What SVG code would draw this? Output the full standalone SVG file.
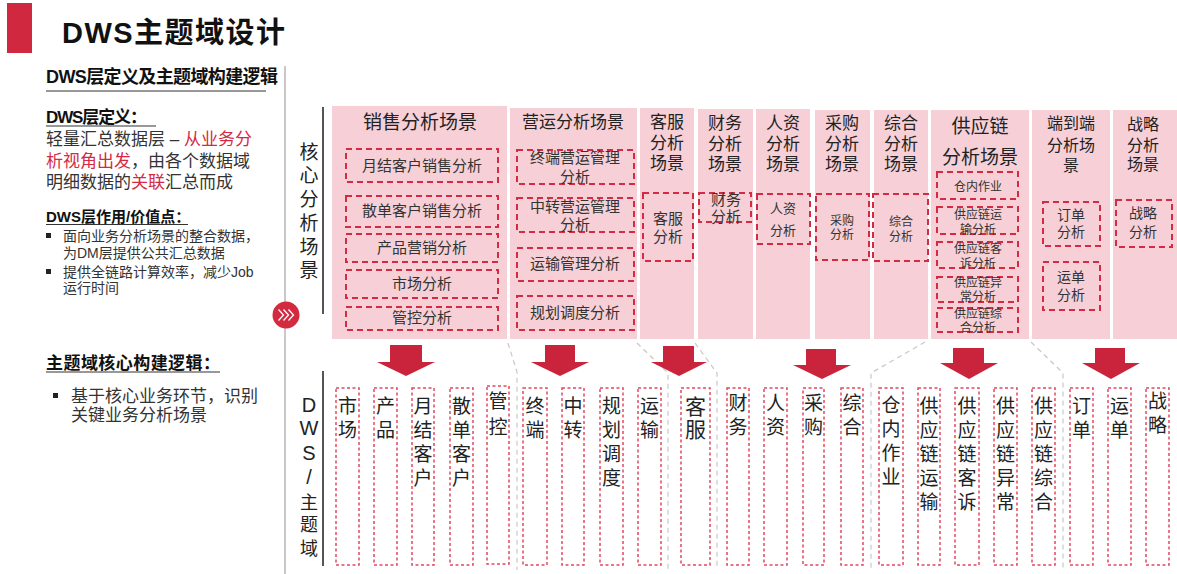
<svg xmlns="http://www.w3.org/2000/svg" width="1177" height="574" viewBox="0 0 1177 574">
<style>
.t{font-family:'Liberation Sans','Noto Sans CJK SC',sans-serif;fill:#333}
.b{font-weight:bold;fill:#111}
.c{text-anchor:middle}
.red{fill:#d42a44}
.pk{fill:#f6d0d6}
.db{fill:none;stroke:#d42b45;stroke-width:2;stroke-dasharray:6 4}
.dv{fill:none;stroke:#e24862;stroke-width:1.5;stroke-dasharray:3 2.5}
.ar{fill:#c9243b}
.gd{fill:none;stroke:#c8c8c8;stroke-width:1.2;stroke-dasharray:5 4}
.ul{stroke:#333;stroke-width:1.2}
.vt{font-size:19px;fill:#222}
.h{fill:#222}
</style>
<rect width="1177" height="574" fill="#fff"/>

<g id="title">
<rect x="7" y="3" width="25" height="50" fill="#d0283e"/>
<text class="t b" x="62" y="43" font-size="29" textLength="223" lengthAdjust="spacing">DWS主题域设计</text>
</g>

<g id="left-panel">
<text class="t b" x="46" y="83" font-size="18" textLength="232" lengthAdjust="spacing">DWS层定义及主题域构建逻辑</text>
<line class="ul" x1="46" y1="91" x2="266" y2="91"/>
<line x1="285" y1="66" x2="285" y2="574" stroke="#c8c8c8" stroke-width="2"/>
<text class="t b" x="46" y="123" font-size="17" textLength="101" lengthAdjust="spacing">DWS层定义：</text>
<line class="ul" x1="46" y1="126" x2="156" y2="126"/>
<text class="t" x="46" y="145" font-size="17">轻量汇总数据层 – <tspan class="red">从业务分</tspan></text>
<text class="t" x="46" y="167" font-size="17"><tspan class="red">析视角出发</tspan>，由各个数据域</text>
<text class="t" x="46" y="188" font-size="17">明细数据的<tspan class="red">关联</tspan>汇总而成</text>
<text class="t b" x="46" y="222" font-size="15">DWS层作用/价值点：</text>
<line class="ul" x1="46" y1="224.5" x2="188" y2="224.5"/>
<rect x="46" y="233" width="5" height="5" fill="#222"/>
<text class="t" x="63" y="241" font-size="14">面向业务分析场景的整合数据，</text>
<text class="t" x="63" y="258" font-size="14">为DM层提供公共汇总数据</text>
<rect x="46" y="269" width="5" height="5" fill="#222"/>
<text class="t" x="63" y="277" font-size="14">提供全链路计算效率，减少Job</text>
<text class="t" x="63" y="293" font-size="14">运行时间</text>
<circle cx="286" cy="315" r="13.5" fill="#d42a40"/>
<path d="M278.5 309.5 L283.5 315 L278.5 320.5 M283.5 309.5 L288.5 315 L283.5 320.5 M288.5 309.5 L293.5 315 L288.5 320.5" fill="none" stroke="#fff" stroke-width="1.3"/>
<text class="t b" x="46" y="369" font-size="17" textLength="174" lengthAdjust="spacing">主题域核心构建逻辑：</text>
<line class="ul" x1="46" y1="372" x2="220" y2="372"/>
<rect x="53" y="393" width="5" height="5" fill="#222"/>
<text class="t" x="71" y="402" font-size="17">基于核心业务环节，识别</text>
<text class="t" x="71" y="421" font-size="17">关键业务分析场景</text>
</g>

<g id="row-labels">
<line x1="323" y1="107" x2="323" y2="314" stroke="#555" stroke-width="2"/>
<text class="t c h" font-size="19"><tspan x="309" y="159">核</tspan><tspan x="309" y="182">心</tspan><tspan x="309" y="206">分</tspan><tspan x="309" y="230">析</tspan><tspan x="309" y="254">场</tspan><tspan x="309" y="277">景</tspan></text>
<line x1="323" y1="371" x2="323" y2="566" stroke="#555" stroke-width="2"/>
<text class="t c h" font-size="20"><tspan x="309" y="412">D</tspan><tspan x="309" y="435">W</tspan><tspan x="309" y="460">S</tspan><tspan x="309" y="484">/</tspan><tspan x="309" y="509" font-size="18">主</tspan><tspan x="309" y="531" font-size="18">题</tspan><tspan x="309" y="555" font-size="18">域</tspan></text>
</g>

<g id="col-sales">
<rect class="pk" x="332" y="106" width="175" height="233"/>
<text class="t c h" x="420" y="129" font-size="19">销售分析场景</text>
<rect class="db" x="346" y="149" width="152" height="33"/>
<text class="t c" x="422" y="171" font-size="15">月结客户销售分析</text>
<rect class="db" x="346" y="196" width="152" height="31"/>
<text class="t c" x="422" y="216" font-size="15">散单客户销售分析</text>
<rect class="db" x="346" y="234" width="152" height="28"/>
<text class="t c" x="422" y="253" font-size="15">产品营销分析</text>
<rect class="db" x="346" y="270" width="152" height="28"/>
<text class="t c" x="422" y="289" font-size="15">市场分析</text>
<rect class="db" x="346" y="307" width="152" height="23"/>
<text class="t c" x="422" y="323" font-size="15">管控分析</text>
</g>

<g id="col-ops">
<rect class="pk" x="510" y="108" width="127" height="231"/>
<text class="t c h" x="573" y="128" font-size="17">营运分析场景</text>
<rect class="db" x="517" y="150" width="117" height="34"/>
<text class="t c" x="575" y="163" font-size="15">终端营运管理</text>
<text class="t c" x="575" y="182" font-size="15">分析</text>
<rect class="db" x="517" y="198" width="117" height="34"/>
<text class="t c" x="575" y="212" font-size="15">中转营运管理</text>
<text class="t c" x="575" y="230" font-size="15">分析</text>
<rect class="db" x="517" y="248" width="117" height="33"/>
<text class="t c" x="575" y="269" font-size="15">运输管理分析</text>
<rect class="db" x="517" y="296" width="117" height="34"/>
<text class="t c" x="575" y="318" font-size="15">规划调度分析</text>
</g>

<g id="col-service">
<rect class="pk" x="640" y="108" width="54" height="231"/>
<text class="t c h" font-size="17"><tspan x="667" y="128">客服</tspan><tspan x="667" y="149">分析</tspan><tspan x="667" y="169">场景</tspan></text>
<rect class="db" x="643" y="193" width="50" height="68"/>
<text class="t c" font-size="15"><tspan x="668" y="224">客服</tspan><tspan x="668" y="242">分析</tspan></text>
</g>

<g id="col-finance">
<rect class="pk" x="698" y="109" width="55" height="230"/>
<text class="t c h" font-size="17"><tspan x="725" y="129">财务</tspan><tspan x="725" y="150">分析</tspan><tspan x="725" y="170">场景</tspan></text>
<rect class="db" x="699" y="193" width="52" height="29"/>
<text class="t c" font-size="15"><tspan x="726" y="205">财务</tspan><tspan x="726" y="222">分析</tspan></text>
</g>

<g id="col-hr">
<rect class="pk" x="756" y="109" width="54" height="230"/>
<text class="t c h" font-size="17"><tspan x="783" y="129">人资</tspan><tspan x="783" y="150">分析</tspan><tspan x="783" y="170">场景</tspan></text>
<rect class="db" x="757" y="194" width="53" height="50"/>
<text class="t c" font-size="13"><tspan x="783" y="213">人资</tspan><tspan x="783" y="235">分析</tspan></text>
</g>

<g id="col-purchase">
<rect class="pk" x="815" y="110" width="55" height="229"/>
<text class="t c h" font-size="17"><tspan x="842" y="129">采购</tspan><tspan x="842" y="150">分析</tspan><tspan x="842" y="170">场景</tspan></text>
<rect class="db" x="816" y="194" width="53" height="66"/>
<text class="t c" font-size="12"><tspan x="842" y="225">采购</tspan><tspan x="842" y="239">分析</tspan></text>
</g>

<g id="col-general">
<rect class="pk" x="874" y="110" width="54" height="229"/>
<text class="t c h" font-size="17"><tspan x="901" y="129">综合</tspan><tspan x="901" y="150">分析</tspan><tspan x="901" y="170">场景</tspan></text>
<rect class="db" x="873" y="194" width="55" height="67"/>
<text class="t c" font-size="12"><tspan x="901" y="226">综合</tspan><tspan x="901" y="241">分析</tspan></text>
</g>

<g id="col-supply">
<rect class="pk" x="931" y="110" width="98" height="229"/>
<text class="t c h" x="980" y="133" font-size="19">供应链</text>
<text class="t c h" x="980" y="164" font-size="19">分析场景</text>
<rect class="db" x="937" y="172" width="81" height="27"/>
<text class="t c" x="978" y="190.5" font-size="12">仓内作业</text>
<rect class="db" x="937" y="207" width="81" height="27"/>
<text class="t c" font-size="12"><tspan x="978" y="218.5">供应链运</tspan><tspan x="978" y="233.5">输分析</tspan></text>
<rect class="db" x="937" y="242" width="81" height="26"/>
<text class="t c" font-size="12"><tspan x="978" y="252.5">供应链客</tspan><tspan x="978" y="267.5">诉分析</tspan></text>
<rect class="db" x="937" y="277" width="81" height="25"/>
<text class="t c" font-size="12"><tspan x="978" y="286.5">供应链异</tspan><tspan x="978" y="300.5">常分析</tspan></text>
<rect class="db" x="937" y="308" width="81" height="24"/>
<text class="t c" font-size="12"><tspan x="978" y="317.5">供应链综</tspan><tspan x="978" y="331.5">合分析</tspan></text>
</g>

<g id="col-e2e">
<rect class="pk" x="1032" y="110" width="78" height="229"/>
<text class="t c h" font-size="16"><tspan x="1071" y="129">端到端</tspan><tspan x="1071" y="151">分析场</tspan><tspan x="1071" y="171">景</tspan></text>
<rect class="db" x="1043" y="202" width="57" height="44"/>
<text class="t c" font-size="14"><tspan x="1071" y="220">订单</tspan><tspan x="1071" y="237">分析</tspan></text>
<rect class="db" x="1043" y="262" width="57" height="48"/>
<text class="t c" font-size="14"><tspan x="1071" y="282">运单</tspan><tspan x="1071" y="300">分析</tspan></text>
</g>

<g id="col-strategy">
<rect class="pk" x="1113" y="110" width="64" height="229"/>
<text class="t c h" font-size="16"><tspan x="1143" y="130">战略</tspan><tspan x="1143" y="151">分析</tspan><tspan x="1143" y="170">场景</tspan></text>
<rect class="db" x="1116" y="200" width="56" height="47"/>
<text class="t c" font-size="14"><tspan x="1143" y="218">战略</tspan><tspan x="1143" y="237">分析</tspan></text>
</g>

<g id="connectors">
<polyline class="gd" points="508,343 517,372 517,570"/>
<polyline class="gd" points="637,343 668,373 668,570"/>
<polyline class="gd" points="695,343 717,373 717,570"/>
<polyline class="gd" points="925,342 871,373 871,570"/>
<polyline class="gd" points="1031,342 1063,373 1063,570"/>
<polygon class="ar" points="390,345 422,345 422,362 435,362 406,376 377,362 390,362"/>
<polygon class="ar" points="545,345 575,345 575,362 589,362 560,376 531,362 545,362"/>
<polygon class="ar" points="663,346 694,346 694,362 707,362 679,376 651,362 663,362"/>
<polygon class="ar" points="806,349 836,349 836,365 851,365 822,379 793,365 806,365"/>
<polygon class="ar" points="953,348 984,348 984,363 998,363 969,379 940,363 953,363"/>
<polygon class="ar" points="1095,348 1125,348 1125,363 1140,363 1111,379 1082,363 1095,363"/>
</g>

<g id="dws-市场"><rect class="dv" x="336" y="388" width="23" height="177"/><text class="t c vt"><tspan x="347.5" y="413">市</tspan><tspan x="347.5" y="437">场</tspan></text></g>
<g id="dws-产品"><rect class="dv" x="374" y="388" width="23" height="177"/><text class="t c vt"><tspan x="385.5" y="413">产</tspan><tspan x="385.5" y="437">品</tspan></text></g>
<g id="dws-月结客户"><rect class="dv" x="412" y="388" width="22" height="177"/><text class="t c vt"><tspan x="423" y="413">月</tspan><tspan x="423" y="437">结</tspan><tspan x="423" y="461">客</tspan><tspan x="423" y="485">户</tspan></text></g>
<g id="dws-散单客户"><rect class="dv" x="450" y="388" width="23" height="177"/><text class="t c vt"><tspan x="461.5" y="413">散</tspan><tspan x="461.5" y="437">单</tspan><tspan x="461.5" y="461">客</tspan><tspan x="461.5" y="485">户</tspan></text></g>
<g id="dws-管控"><rect class="dv" x="487" y="386" width="22" height="178"/><text class="t c vt"><tspan x="498" y="408">管</tspan><tspan x="498" y="434">控</tspan></text></g>
<g id="dws-终端"><rect class="dv" x="523" y="388" width="24" height="177"/><text class="t c vt"><tspan x="535" y="413">终</tspan><tspan x="535" y="437">端</tspan></text></g>
<g id="dws-中转"><rect class="dv" x="562" y="388" width="22" height="177"/><text class="t c vt"><tspan x="573" y="413">中</tspan><tspan x="573" y="437">转</tspan></text></g>
<g id="dws-规划调度"><rect class="dv" x="600" y="388" width="23" height="177"/><text class="t c vt"><tspan x="611.5" y="413">规</tspan><tspan x="611.5" y="437">划</tspan><tspan x="611.5" y="461">调</tspan><tspan x="611.5" y="485">度</tspan></text></g>
<g id="dws-运输"><rect class="dv" x="638" y="388" width="23" height="177"/><text class="t c vt"><tspan x="649.5" y="413">运</tspan><tspan x="649.5" y="437">输</tspan></text></g>
<g id="dws-客服"><rect class="dv" x="681" y="388" width="29" height="177"/><text class="t c vt" style="font-size:21px"><tspan x="695.5" y="414">客</tspan><tspan x="695.5" y="437">服</tspan></text></g>
<g id="dws-财务"><rect class="dv" x="727" y="388" width="22" height="177"/><text class="t c vt"><tspan x="738" y="410">财</tspan><tspan x="738" y="434">务</tspan></text></g>
<g id="dws-人资"><rect class="dv" x="764" y="388" width="23" height="177"/><text class="t c vt"><tspan x="775.5" y="410">人</tspan><tspan x="775.5" y="434">资</tspan></text></g>
<g id="dws-采购"><rect class="dv" x="803" y="388" width="21" height="177"/><text class="t c vt"><tspan x="813.5" y="410">采</tspan><tspan x="813.5" y="434">购</tspan></text></g>
<g id="dws-综合"><rect class="dv" x="841" y="388" width="22" height="177"/><text class="t c vt"><tspan x="852" y="410">综</tspan><tspan x="852" y="434">合</tspan></text></g>
<g id="dws-仓内作业"><rect class="dv" x="879" y="388" width="24" height="177"/><text class="t c vt"><tspan x="891" y="412">仓</tspan><tspan x="891" y="436">内</tspan><tspan x="891" y="460">作</tspan><tspan x="891" y="484">业</tspan></text></g>
<g id="dws-供应链运输"><rect class="dv" x="918" y="388" width="22" height="177"/><text class="t c vt"><tspan x="929" y="413">供</tspan><tspan x="929" y="437">应</tspan><tspan x="929" y="461">链</tspan><tspan x="929" y="485">运</tspan><tspan x="929" y="509">输</tspan></text></g>
<g id="dws-供应链客诉"><rect class="dv" x="955" y="388" width="24" height="177"/><text class="t c vt"><tspan x="967" y="413">供</tspan><tspan x="967" y="437">应</tspan><tspan x="967" y="461">链</tspan><tspan x="967" y="485">客</tspan><tspan x="967" y="509">诉</tspan></text></g>
<g id="dws-供应链异常"><rect class="dv" x="994" y="388" width="23" height="177"/><text class="t c vt"><tspan x="1005.5" y="413">供</tspan><tspan x="1005.5" y="437">应</tspan><tspan x="1005.5" y="461">链</tspan><tspan x="1005.5" y="485">异</tspan><tspan x="1005.5" y="509">常</tspan></text></g>
<g id="dws-供应链综合"><rect class="dv" x="1032" y="388" width="23" height="177"/><text class="t c vt"><tspan x="1043.5" y="413">供</tspan><tspan x="1043.5" y="437">应</tspan><tspan x="1043.5" y="461">链</tspan><tspan x="1043.5" y="485">综</tspan><tspan x="1043.5" y="509">合</tspan></text></g>
<g id="dws-订单"><rect class="dv" x="1070" y="388" width="23" height="177"/><text class="t c vt"><tspan x="1081.5" y="413">订</tspan><tspan x="1081.5" y="437">单</tspan></text></g>
<g id="dws-运单"><rect class="dv" x="1108" y="388" width="23" height="177"/><text class="t c vt"><tspan x="1119.5" y="413">运</tspan><tspan x="1119.5" y="437">单</tspan></text></g>
<g id="dws-战略"><rect class="dv" x="1146" y="388" width="23" height="177"/><text class="t c vt"><tspan x="1157.5" y="408">战</tspan><tspan x="1157.5" y="432">略</tspan></text></g>
</svg>
